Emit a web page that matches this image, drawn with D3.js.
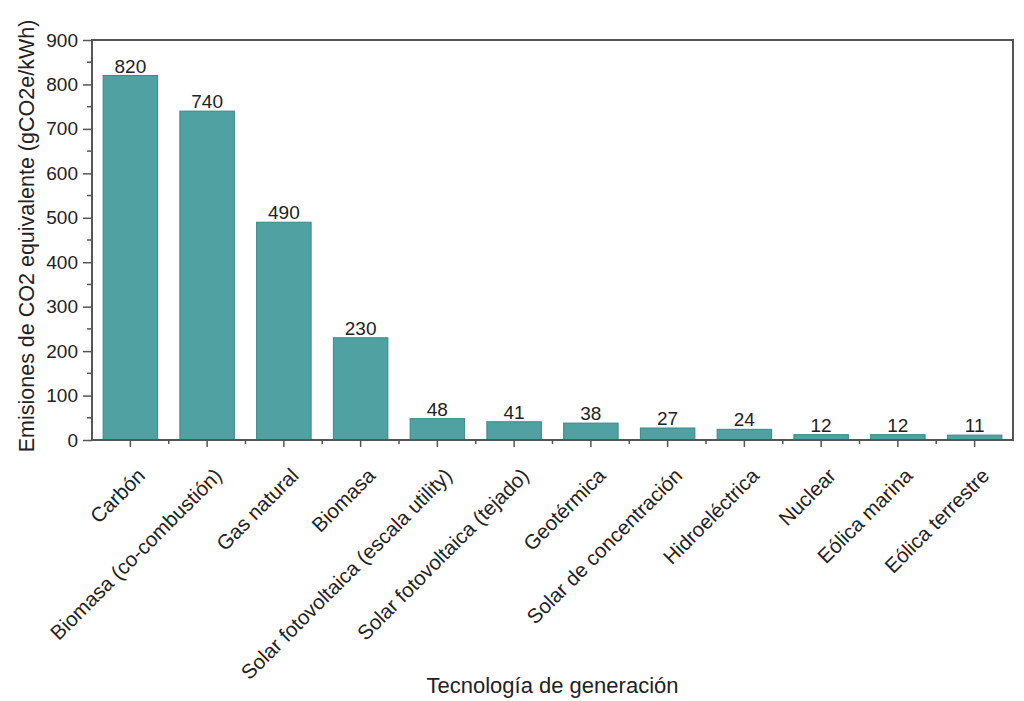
<!DOCTYPE html>
<html>
<head>
<meta charset="utf-8">
<script src="https://cdn.jsdelivr.net/npm/d3@7"></script>
<style>
  body { margin: 0; background: #fff; }
  text { font-family: "Liberation Sans", Arial, sans-serif; fill: #222; }
</style>
</head>
<body>
<div id="chart"></div>
<script>
// data
const technologies = ["Carbón", "Biomasa (co-combustión)", "Gas natural", "Biomasa",
  "Solar fotovoltaica (escala utility)", "Solar fotovoltaica (tejado)", "Geotérmica",
  "Solar de concentración", "Hidroeléctrica", "Nuclear", "Eólica marina", "Eólica terrestre"];
const emissions = [820, 740, 490, 230, 48, 41, 38, 27, 24, 12, 12, 11];
const yTicks = [0, 100, 200, 300, 400, 500, 600, 700, 800, 900];

const svgWidth = 1024;
const svgHeight = 701;

const margin = { top: 40, right: 11, bottom: 261, left: 92 };
const width = svgWidth - margin.left - margin.right;
const height = svgHeight - margin.top - margin.bottom;

const svg = d3.select("#chart")
  .append("svg")
  .attr("width", svgWidth)
  .attr("height", svgHeight);

const chartGroup = svg.append("g")
  .attr("transform", `translate(${margin.left}, ${margin.top})`);

const xScale = d3.scaleBand()
  .domain(technologies)
  .range([0, width])
  .paddingInner(0.29)
  .paddingOuter(0.145);

const yScale = d3.scaleLinear()
  .domain([0, 900])
  .range([height, 0]);

// bars
chartGroup.selectAll("rect.bar")
  .data(technologies)
  .enter()
  .append("rect")
  .attr("class", "bar")
  .attr("x", d => xScale(d))
  .attr("y", (d, i) => yScale(emissions[i]))
  .attr("width", xScale.bandwidth())
  .attr("height", (d, i) => height - yScale(emissions[i]))
  .attr("fill", "#4fa1a2")
  .attr("stroke", "#3b8788")
  .attr("stroke-width", 1);

// value labels
chartGroup.selectAll("text.val")
  .data(technologies)
  .enter()
  .append("text")
  .attr("class", "val")
  .attr("x", d => xScale(d) + xScale.bandwidth() / 2)
  .attr("y", (d, i) => yScale(emissions[i]) - 3)
  .attr("text-anchor", "middle")
  .attr("font-size", 19)
  .text((d, i) => emissions[i]);

// frame
chartGroup.append("rect")
  .attr("width", width)
  .attr("height", height)
  .attr("fill", "none")
  .attr("stroke", "#555")
  .attr("stroke-width", 2);

// y axis
const leftAxis = d3.axisLeft(yScale)
  .tickValues(yTicks)
  .tickSize(9)
  .tickPadding(5);
const yAxis = chartGroup.append("g").call(leftAxis);
yAxis.select(".domain").remove();
yAxis.selectAll("line").attr("stroke", "#555").attr("stroke-width", 1.5);
yAxis.selectAll("text").attr("font-size", 19).attr("fill", "#222")
  .attr("font-family", "Liberation Sans, Arial, sans-serif");

// y minor ticks
const minorY = d3.range(50, 900, 100);
chartGroup.selectAll("line.yminor")
  .data(minorY)
  .enter()
  .append("line")
  .attr("x1", -5)
  .attr("x2", 0)
  .attr("y1", d => yScale(d))
  .attr("y2", d => yScale(d))
  .attr("stroke", "#555")
  .attr("stroke-width", 1.5);

// x axis
const bottomAxis = d3.axisBottom(xScale)
  .tickSize(7);
const xAxis = chartGroup.append("g")
  .attr("transform", `translate(0, ${height})`)
  .call(bottomAxis);
xAxis.select(".domain").remove();
xAxis.selectAll("line").attr("stroke", "#555").attr("stroke-width", 1.5);
xAxis.selectAll("text")
  .attr("font-size", 20.5)
  .attr("fill", "#222")
  .attr("font-family", "Liberation Sans, Arial, sans-serif")
  .attr("text-anchor", "end")
  .attr("x", 0)
  .attr("y", 0)
  .attr("dy", 0)
  .attr("transform", "translate(16, 37) rotate(-45)");

// x minor ticks between categories
const step = xScale.step();
chartGroup.selectAll("line.xminor")
  .data(d3.range(1, technologies.length))
  .enter()
  .append("line")
  .attr("x1", i => i * step)
  .attr("x2", i => i * step)
  .attr("y1", height)
  .attr("y2", height + 4)
  .attr("stroke", "#555")
  .attr("stroke-width", 1.5);

// axis titles
chartGroup.append("text")
  .attr("x", width / 2)
  .attr("y", height + 253)
  .attr("text-anchor", "middle")
  .attr("font-size", 22)
  .text("Tecnología de generación");

chartGroup.append("text")
  .attr("transform", "rotate(-90)")
  .attr("x", -height / 2 + 4)
  .attr("y", -58)
  .attr("text-anchor", "middle")
  .attr("font-size", 21.5)
  .text("Emisiones de CO2 equivalente (gCO2e/kWh)");
</script>
</body>
</html>
